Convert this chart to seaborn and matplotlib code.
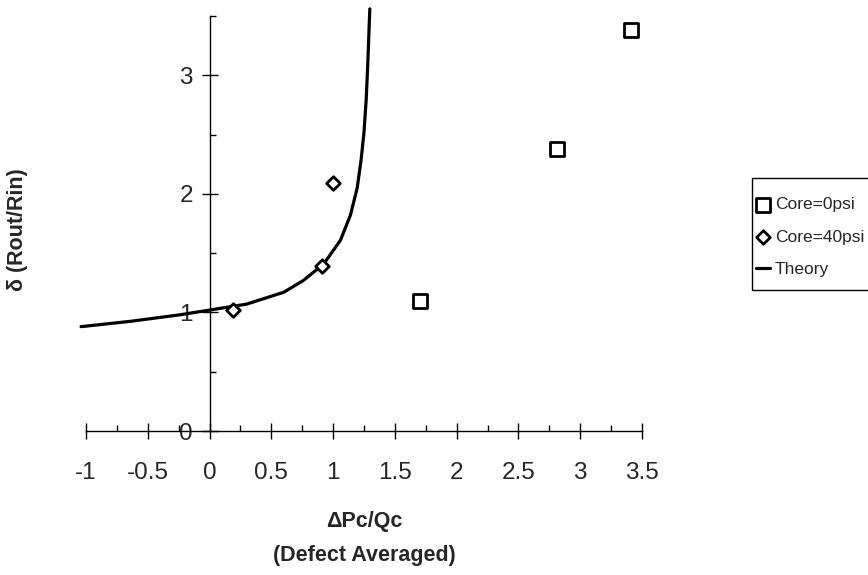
import numpy as np
import pandas as pd
import matplotlib
matplotlib.use("Agg")
import matplotlib.pyplot as plt
from matplotlib.ticker import MultipleLocator
from matplotlib.patches import Rectangle
import seaborn as sns

# Data
core0_x = [1.70, 2.81, 3.41]
core0_y = [1.10, 2.38, 3.38]
core40_x = [0.19, 0.91, 1.00]
core40_y = [1.02, 1.39, 2.09]
theory_x = [-1.04, -0.64, -0.24, 0.0, 0.3, 0.6, 0.76, 0.925, 1.06, 1.14, 1.195,
            1.227, 1.25, 1.268, 1.28, 1.297]
theory_y = [0.88, 0.925, 0.98, 1.02, 1.07, 1.17, 1.27, 1.41, 1.61, 1.82, 2.05,
            2.29, 2.52, 2.80, 3.08, 3.56]
x_ticks = [-1, -0.5, 0, 0.5, 1, 1.5, 2, 2.5, 3, 3.5]
x_ticklabels = ["-1", "-0.5", "0", "0.5", "1", "1.5", "2", "2.5", "3", "3.5"]
y_ticks = [0, 1, 2, 3]

sns.set_theme(style="white")
plt.rcParams['font.family'] = ['Liberation Sans', 'DejaVu Sans']

fig = plt.figure(figsize=(8.68, 5.75), dpi=100)
W, H = 868, 575
ax = fig.add_axes([86 / W, (H - 431) / H, (642 - 86) / W, (431 - 16) / H])

df0 = pd.DataFrame({"x": core0_x, "y": core0_y})
df40 = pd.DataFrame({"x": core40_x, "y": core40_y})
dft = pd.DataFrame({"x": theory_x, "y": theory_y})

sns.lineplot(data=dft, x="x", y="y", ax=ax, color="black", linewidth=2.3,
             sort=False, estimator=None, label="Theory", clip_on=False, zorder=3)
sns.scatterplot(data=df0, x="x", y="y", ax=ax, marker="s", s=90,
                facecolor="white", edgecolor="black", linewidth=2.0,
                label="Core=0psi", zorder=4, clip_on=False)
sns.scatterplot(data=df40, x="x", y="y", ax=ax, marker="D", s=48,
                facecolor="white", edgecolor="black", linewidth=2.0,
                label="Core=40psi", zorder=4, clip_on=False)

ax.set_xlim(-1, 3.5)
ax.set_ylim(0, 3.5)

for s in ["top", "right"]:
    ax.spines[s].set_visible(False)
ax.spines["left"].set_position(("data", 0))
ax.spines["bottom"].set_position(("data", 0))
for s in ["left", "bottom"]:
    ax.spines[s].set_color("black")
    ax.spines[s].set_linewidth(1.0)

ax.set_xticks(x_ticks)
ax.set_xticklabels(x_ticklabels)
ax.set_yticks(y_ticks)
ax.xaxis.set_minor_locator(MultipleLocator(0.25))
ax.yaxis.set_minor_locator(MultipleLocator(0.5))
ax.tick_params(axis="x", which="major", direction="inout", length=12, width=1,
               color="black", labelsize=17.5, pad=16, bottom=True)
ax.tick_params(axis="x", which="minor", direction="in", length=4.5, width=1,
               color="black", bottom=True)
ax.tick_params(axis="y", which="major", direction="inout", length=12, width=1,
               color="black", labelsize=17.5, pad=6, left=True)
ax.tick_params(axis="y", which="minor", direction="in", length=4.5, width=1,
               color="black", left=True)
ax.grid(False)

ax.set_xlabel("")
ax.set_ylabel("")
fig.text(364 / W, 1 - 522 / H, "ΔPc/Qc", ha="center", va="center",
         fontsize=15.5, fontweight="bold")
fig.text(364 / W, 1 - 555 / H, "(Defect Averaged)", ha="center", va="center",
         fontsize=15.5, fontweight="bold")
fig.text(18 / W, 1 - 230 / H, "δ (Rout/Rin)", ha="center", va="center",
         rotation=90, fontsize=15.5, fontweight="bold")

# legend box drawn separately, legend entries without frame
fig.patches.append(Rectangle((752 / W, 1 - 290 / H), 125 / W, 112 / H,
                             transform=fig.transFigure, fill=False,
                             edgecolor="black", linewidth=1.0))
handles, labels = ax.get_legend_handles_labels()
order = [labels.index("Core=0psi"), labels.index("Core=40psi"), labels.index("Theory")]
leg = ax.legend([handles[i] for i in order], [labels[i] for i in order],
                loc="center left", bbox_to_anchor=(756 / W, 1 - 237 / H),
                bbox_transform=fig.transFigure, frameon=False,
                fontsize=12.5, handlelength=0.8,
                handletextpad=0.3, borderpad=0.0, labelspacing=1.0,
                borderaxespad=0)

fig.savefig("out.png", dpi=100, facecolor="white")
